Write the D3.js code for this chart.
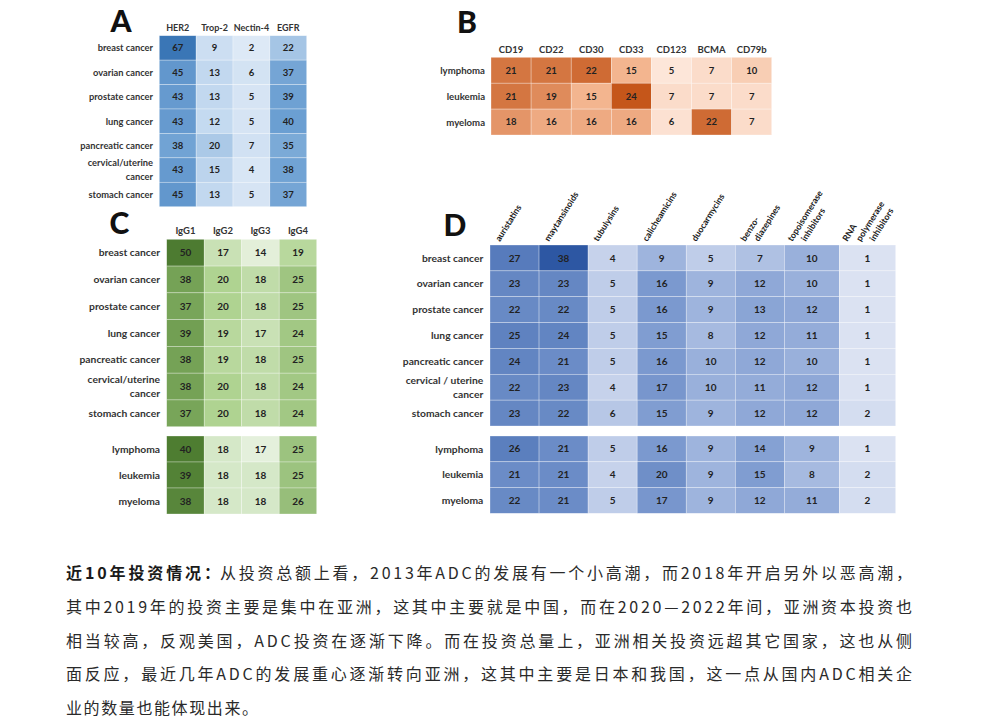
<!DOCTYPE html>
<html><head><meta charset="utf-8">
<script src="https://cdn.jsdelivr.net/npm/d3@7"></script>
<style>
html,body{margin:0;padding:0;background:#fff;}
svg{display:block;}
.lab{font-family:Lato,"Liberation Sans",sans-serif;font-weight:700;fill:#333;}
.num{font-family:Lato,"Liberation Sans",sans-serif;font-weight:700;fill:#222;}
.big{font-family:Lato,"Liberation Sans",sans-serif;font-weight:900;fill:#111;font-size:30px;}
.zh{font-family:"Noto Sans CJK SC",sans-serif;fill:#2a2a2a;font-size:16px;}
</style></head><body>
<script>
// ---------- data ----------
const rowsSolid = ["breast cancer","ovarian cancer","prostate cancer","lung cancer","pancreatic cancer","cervical/uterine\ncancer","stomach cancer"];
const rowsSolidD = ["breast cancer","ovarian cancer","prostate cancer","lung cancer","pancreatic cancer","cervical / uterine\ncancer","stomach cancer"];
const rowsHeme = ["lymphoma","leukemia","myeloma"];

// Panel A (targets, solid tumours)
const colsA = ["HER2","Trop-2","Nectin-4","EGFR"];
const aHER2    = [67,45,43,43,38,43,45];
const aTrop2   = [9,13,13,12,20,15,13];
const aNectin4 = [2,6,5,5,7,4,5];
const aEGFR    = [22,37,39,40,35,38,37];

// Panel B (targets, haematological)
const colsB = ["CD19","CD22","CD30","CD33","CD123","BCMA","CD79b"];
const bCD19  = [21,21,18];
const bCD22  = [21,19,16];
const bCD30  = [22,15,16];
const bCD33  = [15,24,16];
const bCD123 = [5,7,6];
const bBCMA  = [7,7,22];
const bCD79b = [10,7,7];

// Panel C (antibody isotype; 7 solid rows then 3 heme rows)
const colsC = ["IgG1","IgG2","IgG3","IgG4"];
const cIgG1 = [50,38,37,39,38,38,37, 40,39,38];
const cIgG2 = [17,20,20,19,19,20,20, 18,18,18];
const cIgG3 = [14,18,18,17,18,18,18, 17,18,18];
const cIgG4 = [19,25,25,24,25,24,24, 25,25,26];

// Panel D (payloads; 7 solid rows then 3 heme rows)
const colsD = ["auristatins","maytansinoids","tubulysins","calicheamicins","duocarmycins","benzo-\ndiazepines","topoisomerase\ninhibitors","RNA\npolymerase\ninhibitors"];
const dAuristatins    = [27,23,22,25,24,22,23, 26,21,22];
const dMaytansinoids  = [38,23,22,24,21,23,22, 21,21,21];
const dTubulysins     = [4,5,5,5,5,4,6, 5,4,5];
const dCalicheamicins = [9,16,16,15,16,17,15, 16,20,17];
const dDuocarmycins   = [5,9,9,8,10,10,9, 9,9,9];
const dBenzodiazepines= [7,12,13,12,12,11,12, 14,15,12];
const dTopoisomerase  = [10,10,12,11,10,12,12, 9,8,11];
const dRNAPolymerase  = [1,1,1,1,1,1,2, 1,2,2];

const paragraph = [
  "从投资总额上看，2013年ADC的发展有一个小高潮，而2018年开启另外以恶高潮，",
  "其中2019年的投资主要是集中在亚洲，这其中主要就是中国，而在2020—2022年间，亚洲资本投资也",
  "相当较高，反观美国，ADC投资在逐渐下降。而在投资总量上，亚洲相关投资远超其它国家，这也从侧",
  "面反应，最近几年ADC的发展重心逐渐转向亚洲，这其中主要是日本和我国，这一点从国内ADC相关企",
  "业的数量也能体现出来。"
];
const paragraphLead = "近10年投资情况：";

// ---------- drawing ----------
const W = 998, H = 723;
const svg = d3.select("body").append("svg").attr("width", W).attr("height", H);
svg.append("rect").attr("width", W).attr("height", H).attr("fill", "#fff");

function drawPanel(p) {
  const g = svg.append("g");
  const w = p.weights || p.cols.map(() => 1);
  const cum = [0, ...d3.cumsum(w)];
  const xs = d3.scaleLinear().domain([0, cum[cum.length - 1]]).range(p.xRange);
  const colX = j => xs(cum[j]);
  const colW = j => xs(cum[j + 1]) - xs(cum[j]);

  g.append("text").attr("class", "big").attr("x", p.letter[0]).attr("y", p.letter[1])
    .attr("text-anchor", "middle").text(p.letter[2]);

  if (!p.rotated) {
    p.cols.forEach((c, j) => {
      g.append("text").attr("class", "lab").attr("font-size", p.hfs)
        .attr("x", colX(j) + colW(j) / 2).attr("y", p.headerY)
        .attr("text-anchor", "middle").text(c);
    });
  } else {
    p.cols.forEach((c, j) => {
      c.split("\n").forEach((ln, k) => {
        const ax = colX(j) + (j >= 6 ? 8 : 10) + k * 13.5;
        const ay = p.headerY;
        g.append("text").attr("class", "lab").attr("font-size", p.hfs)
          .attr("transform", `translate(${ax},${ay}) rotate(-58)`)
          .style("fill", "#1a1a1a")
          .text(ln);
      });
    });
  }

  p.blocks.forEach(b => {
    const y = d3.scaleBand().domain(b.rows.map((r, i) => i)).range(b.yRange);
    b.rows.forEach((r, i) => {
      const row = b.offset + i;
      p.series.forEach((s, j) => {
        const v = s[row];
        g.append("rect").attr("x", colX(j)).attr("y", y(i))
          .attr("width", colW(j)).attr("height", y.bandwidth())
          .attr("fill", b.color(v)).attr("stroke", "#fff").attr("stroke-width", 0.6)
          .attr("stroke-opacity", 0.5);
        g.append("text").attr("class", "num").attr("font-size", p.nfs)
          .attr("x", colX(j) + colW(j) / 2).attr("y", y(i) + y.bandwidth() / 2)
          .attr("dy", "0.36em").attr("text-anchor", "middle").text(v);
      });
      const lines = r.split("\n");
      const cy = y(i) + y.bandwidth() / 2;
      lines.forEach((ln, k) => {
        g.append("text").attr("class", "lab").attr("font-size", p.lfs)
          .attr("x", p.labelX).attr("y", cy + (k - (lines.length - 1) / 2) * p.lineH)
          .attr("dy", "0.36em").attr("text-anchor", "end").text(ln);
      });
    });
  });
}

const colorA = d3.scaleLinear().domain([2, 13, 40, 67]).range(["#dde9f6", "#c2d8ef", "#6b9fd2", "#3a76b6"]);
const colorB = d3.scaleLinear().domain([5, 15, 24]).range(["#fde6d9", "#f3b58f", "#c5561a"]);
const colorC1 = d3.scaleLinear().domain([14, 20, 38, 50]).range(["#e3efd9", "#afd391", "#75a256", "#4d7b31"]);
const colorC2 = d3.scaleLinear().domain([17, 18, 25, 40]).range(["#e4f0dc", "#d5e8c8", "#9cc37f", "#4e7d31"]);
const colorD = d3.scaleLinear().domain([1, 5, 9, 16, 25, 38]).range(["#dbe2f2", "#bfcde9", "#9eb4dd", "#7b99cf", "#5f82c0", "#2d57a3"]);

drawPanel({
  letter: [121, 32, "A"], cols: colsA, series: [aHER2, aTrop2, aNectin4, aEGFR],
  xRange: [159.3, 306.7], headerY: 31, hfs: 9, nfs: 9.5, lfs: 9.3, lineH: 14, labelX: 153,
  blocks: [{ rows: rowsSolid, offset: 0, yRange: [35.7, 206.7], color: colorA }]
});

drawPanel({
  letter: [467, 32.5, "B"], cols: colsB, series: [bCD19, bCD22, bCD30, bCD33, bCD123, bBCMA, bCD79b],
  xRange: [491, 771.7], headerY: 53, hfs: 9.5, nfs: 9.5, lfs: 9.6, lineH: 14, labelX: 485,
  blocks: [{ rows: rowsHeme, offset: 0, yRange: [57.3, 135], color: colorB }]
});

drawPanel({
  letter: [119.5, 233.5, "C"], cols: colsC, series: [cIgG1, cIgG2, cIgG3, cIgG4],
  xRange: [166.7, 316.7], headerY: 234, hfs: 9.5, nfs: 10, lfs: 10.3, lineH: 13.6, labelX: 160,
  blocks: [
    { rows: rowsSolid, offset: 0, yRange: [239.3, 426.7], color: colorC1 },
    { rows: rowsHeme, offset: 7, yRange: [436, 514], color: colorC2 }
  ]
});

drawPanel({
  letter: [455, 235.5, "D"], cols: colsD, rotated: true,
  series: [dAuristatins, dMaytansinoids, dTubulysins, dCalicheamicins, dDuocarmycins, dBenzodiazepines, dTopoisomerase, dRNAPolymerase],
  weights: [1, 1, 1, 1, 1, 1, 1.12, 1.15],
  xRange: [490, 895.7], headerY: 242, hfs: 8.8, nfs: 10, lfs: 10.3, lineH: 13.7, labelX: 483.3,
  blocks: [
    { rows: rowsSolidD, offset: 0, yRange: [245, 426], color: colorD },
    { rows: rowsHeme, offset: 7, yRange: [436, 513.3], color: colorD }
  ]
});

// ---------- paragraph ----------
const textLeft = 66, textRight = 912, leadRight = 220;
const baseY = d3.scaleLinear().domain([0, 4]).range([579, 714]);
const tg = svg.append("g");
tg.append("text").attr("class", "zh").attr("x", textLeft).attr("y", baseY(0))
  .attr("font-weight", 700).style("fill", "#1a1a1a")
  .attr("textLength", leadRight - textLeft).attr("lengthAdjust", "spacing").text(paragraphLead);
paragraph.forEach((ln, i) => {
  const t = tg.append("text").attr("class", "zh").attr("y", baseY(i)).text(ln);
  if (i === 0) {
    t.attr("x", leadRight).attr("textLength", textRight - leadRight).attr("lengthAdjust", "spacing");
  } else if (i < paragraph.length - 1) {
    t.attr("x", textLeft).attr("textLength", textRight - textLeft).attr("lengthAdjust", "spacing");
  } else {
    t.attr("x", textLeft).style("letter-spacing", "1.6px");
  }
});
</script>
</body></html>
